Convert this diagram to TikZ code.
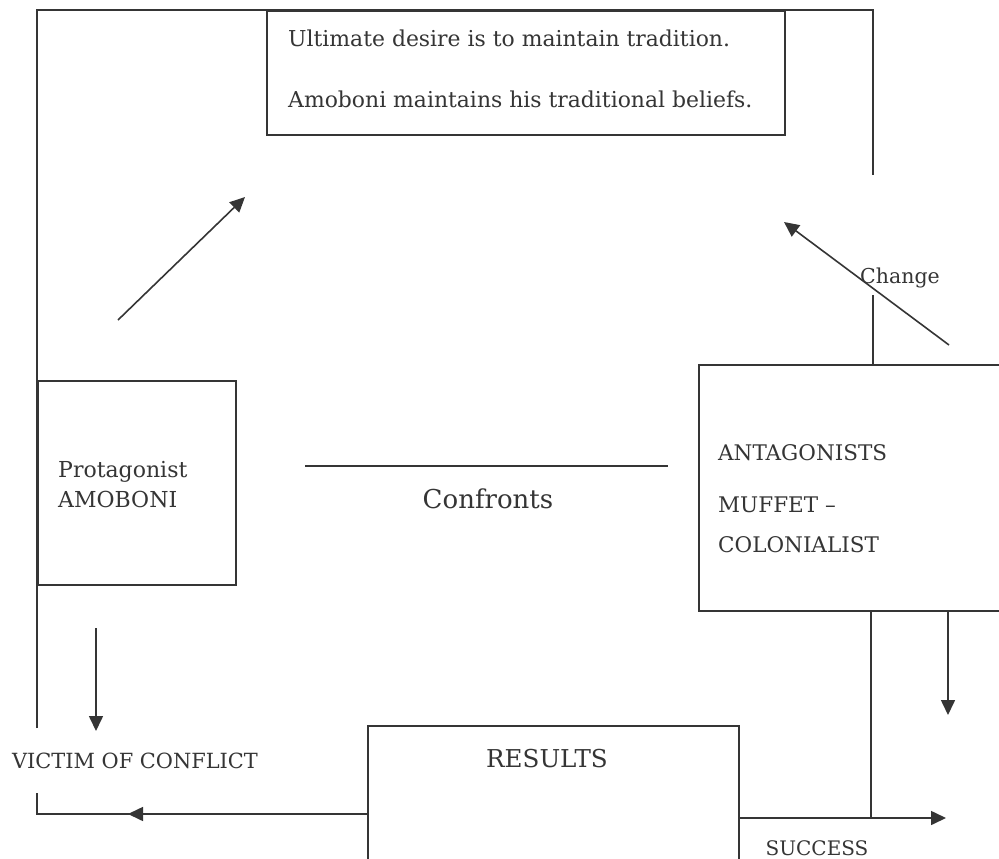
\documentclass[tikz,border=0pt]{standalone}
\usepackage{fontspec}
\setmainfont{DejaVu Serif}
\usetikzlibrary{arrows.meta}
\definecolor{ink}{HTML}{353535}
\tikzset{
  box/.style={draw=ink, line width=1.6pt, inner sep=0pt, anchor=north west},
  ln/.style={draw=ink, line width=1.6pt},
  arr/.style={ln, -{Triangle[length=15pt,width=14pt]}},
  txt/.style={text=ink, inner sep=0pt, anchor=base west},
}
\begin{document}
\begin{tikzpicture}[x=1pt,y=-1pt]
\clip (0,0) rectangle (999,859);
\fill[white] (0,0) rectangle (999,859);
% boxes
\node[box, minimum width=518pt, minimum height=124pt] (top) at (266,10) {};
\node[box, minimum width=198pt, minimum height=204pt] (prot) at (37,380) {};
\node[box, minimum width=330pt, minimum height=246pt] (ant) at (698,364) {};
\node[box, minimum width=371pt, minimum height=134pt] (res) at (367,725) {};
% texts
\node[txt, font=\fontsize{21.9}{24}\selectfont] (t1) at (288,47) {Ultimate desire is to maintain tradition.};
\node[txt, font=\fontsize{21.9}{24}\selectfont] (t2) at (288,107) {Amoboni maintains his traditional beliefs.};
\node[txt, font=\fontsize{22}{24}\selectfont] (p1) at (58,477) {Protagonist};
\node[txt, font=\fontsize{22}{24}\selectfont] (p2) at (58,507) {AMOBONI};
\node[txt, font=\fontsize{26}{28}\selectfont, anchor=base] (conf) at (488,508) {Confronts};
\node[txt, font=\fontsize{21.5}{24}\selectfont] (a1) at (718,460) {ANTAGONISTS};
\node[txt, font=\fontsize{21.5}{24}\selectfont] (a2) at (718,512) {MUFFET –};
\node[txt, font=\fontsize{21.5}{24}\selectfont] (a3) at (718,552) {COLONIALIST};
\node[txt, font=\fontsize{20.9}{24}\selectfont, anchor=base] (vic) at (135,768) {VICTIM OF CONFLICT};
\node[txt, font=\fontsize{24.6}{28}\selectfont, anchor=base] (rt) at (547,767) {RESULTS};
\node[txt, font=\fontsize{20}{24}\selectfont, anchor=base] (suc) at (817,855) {SUCCESS};
\node[txt, font=\fontsize{20.5}{24}\selectfont, anchor=base] (chg) at (900,283) {Change};
% coordinates
\coordinate (tl) at (37,10);
\coordinate (tr) at (873,10);
\coordinate (rgap) at (873,175);
\coordinate (rg2) at (873,295);
\coordinate (lgap) at (37,728);
\coordinate (bl2) at (37,793);
\coordinate (bl) at (37,814);
\coordinate (rl) at (367,814);
\coordinate (lhead) at (128,814);
\coordinate (rs) at (738,818);
\coordinate (rtip) at (946,818);
\coordinate (rmid) at (871,818);
\coordinate (cl) at (305,466);
\coordinate (cr) at (668,466);
\coordinate (d1s) at (118,320);
\coordinate (d1e) at (245,197);
\coordinate (d2s) at (949,345);
\coordinate (d2e) at (784,222);
\coordinate (vs) at (96,628);
\coordinate (ve) at (96,731);
\coordinate (ws) at (948,610);
\coordinate (we) at (948,715);
% outer frame
\draw[ln] (lgap) -- (tl) -- (tr) -- (rgap);
\draw[ln] (rg2) -- (rg2 |- ant.north);
\draw[ln] (rl) -- (bl) -- (bl2);
\draw[arr] (rl) -- (lhead);
\draw[arr] (rs) -- (rtip);
\draw[ln] (rmid |- ant.south) -- (rmid);
% other connectors
\draw[ln] (cl) -- (cr);
\draw[arr] (d1s) -- (d1e);
\draw[arr] (d2s) -- (d2e);
\draw[arr] (vs) -- (ve);
\draw[arr] (ws) -- (we);
\end{tikzpicture}
\end{document}
